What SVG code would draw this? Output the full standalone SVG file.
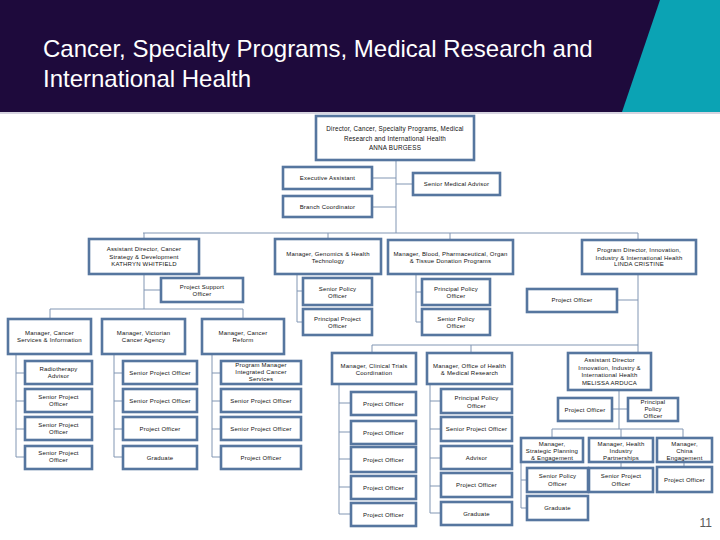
<svg xmlns="http://www.w3.org/2000/svg" width="720" height="540" viewBox="0 0 720 540">
<style>
.box{fill:#fff;stroke:#56769f;stroke-width:2.6}
.ln{stroke:#8196b3;stroke-width:1;fill:none}
.t{font-family:"Liberation Sans",Arial,sans-serif;font-size:6px;letter-spacing:0.2px;fill:#111;text-anchor:middle}
.big{font-size:6.3px}
.title{font-family:"Liberation Sans",Arial,sans-serif;font-size:24px;fill:#fff}
</style>
<rect x="0" y="0" width="720" height="540" fill="#fff"/>
<rect x="0" y="0" width="720" height="112" fill="#1e0a3c"/>
<polygon points="660,0 720,0 720,112 622,112" fill="#0ba3b4"/>
<line x1="0" y1="113" x2="720" y2="113" stroke="#c9c6d6" stroke-width="1.5"/>
<text class="title" x="43" y="57">Cancer, Specialty Programs, Medical Research and</text>
<text class="title" x="43" y="87">International Health</text>
<text x="712" y="527" font-family="Liberation Sans, Arial, sans-serif" font-size="12" fill="#595959" text-anchor="end">11</text>

<g id="connectors" class="ln">
<path d="M396 160V233M372 178H396M372 207H396M396 184H413"/>
<path d="M143 233H638M144 233V239M328 233V239M450 233V240M638 233V240"/>
<path d="M144 274V309M144 290H161M50 309H243M50 309V319M243 309V318"/>
<path d="M297 274V322M297 291H303M297 322H303"/>
<path d="M416 274V322M416 292H422M416 322H422"/>
<path d="M638 274V353M617 300H638M372 345H638M372 345V353M471 345V353"/>
<path d="M16 354V457M16 373H25M16 401H25M16 429H25M16 457H25"/>
<path d="M114 354V457M114 373H123M114 401H123M114 429H123M114 457H123"/>
<path d="M212 354V457M212 373H221M212 401H221M212 429H221M212 457H221"/>
<path d="M339 384V514M339 403H351M339 432H351M339 459H351M339 487H351M339 514H351"/>
<path d="M430 384V513M430 401H441M430 429H441M430 458H441M430 486H441M430 513H441"/>
<path d="M619 390V429M612 409H628M552 429H683M552 429V438M621 429V438M683 429V438"/>
<path d="M521 462V508M521 480H527M521 508H527M621 462V468M684 462V467"/>
</g>

<g id="director"><rect class="box" x="316" y="116" width="158" height="44"/>
<text class="t big" x="395" y="131">Director, Cancer, Specialty Programs, Medical</text>
<text class="t big" x="395" y="141">Research and International Health</text>
<text class="t big" x="395" y="150">ANNA BURGESS</text></g>
<g id="exec-assistant"><rect class="box" x="283" y="167" width="89" height="22"/>
<text class="t" x="327.5" y="180">Executive Assistant</text></g>
<g id="senior-medical-advisor"><rect class="box" x="413" y="173" width="87" height="22"/>
<text class="t" x="456.5" y="186">Senior Medical Advisor</text></g>
<g id="branch-coordinator"><rect class="box" x="283" y="196" width="89" height="21"/>
<text class="t" x="327.5" y="208.5">Branch Coordinator</text></g>

<g id="ad-cancer-strategy"><rect class="box" x="89" y="239" width="110" height="35"/>
<text class="t" x="144" y="251">Assistant Director, Cancer</text>
<text class="t" x="144" y="258.5">Strategy &amp; Development</text>
<text class="t" x="144" y="266">KATHRYN WHITFIELD</text></g>
<g id="mgr-genomics"><rect class="box" x="275" y="239" width="106" height="35"/>
<text class="t" x="328" y="256">Manager, Genomics &amp; Health</text>
<text class="t" x="328" y="263">Technology</text></g>
<g id="mgr-blood"><rect class="box" x="388" y="240" width="125" height="34"/>
<text class="t" x="450.5" y="256">Manager, Blood, Pharmaceutical, Organ</text>
<text class="t" x="450.5" y="263">&amp; Tissue Donation Programs</text></g>
<g id="pd-innovation"><rect class="box" x="582" y="240" width="114" height="34"/>
<text class="t" x="639" y="252">Program Director, Innovation,</text>
<text class="t" x="639" y="260">Industry &amp; International Health</text>
<text class="t" x="639" y="266">LINDA CRISTINE</text></g>

<g id="project-support-officer"><rect class="box" x="161" y="278" width="82" height="24"/>
<text class="t" x="202" y="289">Project Support</text>
<text class="t" x="202" y="296">Officer</text></g>
<g id="mgr-cancer-services"><rect class="box" x="8" y="319" width="83" height="35"/>
<text class="t" x="49.5" y="335">Manager, Cancer</text>
<text class="t" x="49.5" y="342">Services &amp; Information</text></g>
<g id="mgr-victorian"><rect class="box" x="102" y="319" width="83" height="35"/>
<text class="t" x="143.5" y="335">Manager, Victorian</text>
<text class="t" x="143.5" y="342">Cancer Agency</text></g>
<g id="mgr-cancer-reform"><rect class="box" x="202" y="319" width="82" height="35"/>
<text class="t" x="243" y="335">Manager, Cancer</text>
<text class="t" x="243" y="342">Reform</text></g>

<g id="gen-senior-policy"><rect class="box" x="303" y="278" width="69" height="27"/>
<text class="t" x="337.5" y="291">Senior Policy</text>
<text class="t" x="337.5" y="298">Officer</text></g>
<g id="gen-principal-project"><rect class="box" x="303" y="309" width="69" height="26"/>
<text class="t" x="337.5" y="321">Principal Project</text>
<text class="t" x="337.5" y="328">Officer</text></g>
<g id="blood-principal-policy"><rect class="box" x="422" y="279" width="68" height="26"/>
<text class="t" x="456" y="291">Principal Policy</text>
<text class="t" x="456" y="298">Officer</text></g>
<g id="blood-senior-policy"><rect class="box" x="422" y="309" width="68" height="26"/>
<text class="t" x="456" y="321">Senior Policy</text>
<text class="t" x="456" y="328">Officer</text></g>
<g id="pd-project-officer"><rect class="box" x="527" y="289" width="90" height="23"/>
<text class="t" x="572" y="302">Project Officer</text></g>

<g id="cs-radiotherapy"><rect class="box" x="25" y="361" width="67" height="23"/>
<text class="t" x="58.5" y="371">Radiotherapy</text><text class="t" x="58.5" y="378">Advisor</text></g>
<g id="cs-spo1"><rect class="box" x="25" y="389" width="67" height="23"/>
<text class="t" x="58.5" y="399">Senior Project</text><text class="t" x="58.5" y="406">Officer</text></g>
<g id="cs-spo2"><rect class="box" x="25" y="417" width="67" height="23"/>
<text class="t" x="58.5" y="427">Senior Project</text><text class="t" x="58.5" y="434">Officer</text></g>
<g id="cs-spo3"><rect class="box" x="25" y="446" width="67" height="23"/>
<text class="t" x="58.5" y="455">Senior Project</text><text class="t" x="58.5" y="462">Officer</text></g>

<g id="vca-spo1"><rect class="box" x="123" y="361" width="74" height="23"/>
<text class="t" x="160" y="375">Senior Project Officer</text></g>
<g id="vca-spo2"><rect class="box" x="123" y="389" width="74" height="23"/>
<text class="t" x="160" y="403">Senior Project Officer</text></g>
<g id="vca-po"><rect class="box" x="123" y="417" width="74" height="23"/>
<text class="t" x="160" y="431">Project Officer</text></g>
<g id="vca-graduate"><rect class="box" x="123" y="446" width="74" height="23"/>
<text class="t" x="160" y="459.5">Graduate</text></g>

<g id="cr-program-manager"><rect class="box" x="221" y="361" width="80" height="23"/>
<text class="t" x="261" y="367">Program Manager</text>
<text class="t" x="261" y="374">Integrated Cancer</text>
<text class="t" x="261" y="381">Services</text></g>
<g id="cr-spo1"><rect class="box" x="221" y="389" width="80" height="23"/>
<text class="t" x="261" y="403">Senior Project Officer</text></g>
<g id="cr-spo2"><rect class="box" x="221" y="417" width="80" height="23"/>
<text class="t" x="261" y="431">Senior Project Officer</text></g>
<g id="cr-po"><rect class="box" x="221" y="446" width="80" height="23"/>
<text class="t" x="261" y="459.5">Project Officer</text></g>

<g id="mgr-clinical-trials"><rect class="box" x="332" y="353" width="84" height="31"/>
<text class="t" x="374" y="368">Manager, Clinical Trials</text>
<text class="t" x="374" y="375">Coordination</text></g>
<g id="mgr-ohmr"><rect class="box" x="427" y="353" width="85" height="31"/>
<text class="t" x="469.5" y="368">Manager, Office of Health</text>
<text class="t" x="469.5" y="375">&amp; Medical Research</text></g>

<g id="ct-po1"><rect class="box" x="351" y="392" width="65" height="23"/><text class="t" x="383.5" y="405.5">Project Officer</text></g>
<g id="ct-po2"><rect class="box" x="351" y="421" width="65" height="23"/><text class="t" x="383.5" y="434.5">Project Officer</text></g>
<g id="ct-po3"><rect class="box" x="351" y="447" width="65" height="25"/><text class="t" x="383.5" y="461.5">Project Officer</text></g>
<g id="ct-po4"><rect class="box" x="351" y="476" width="65" height="23"/><text class="t" x="383.5" y="489.5">Project Officer</text></g>
<g id="ct-po5"><rect class="box" x="351" y="503" width="65" height="23"/><text class="t" x="383.5" y="516.5">Project Officer</text></g>

<g id="oh-ppo"><rect class="box" x="441" y="389" width="71" height="24"/>
<text class="t" x="476.5" y="400">Principal Policy</text><text class="t" x="476.5" y="408">Officer</text></g>
<g id="oh-spo"><rect class="box" x="441" y="417" width="71" height="24"/><text class="t" x="476.5" y="431">Senior Project Officer</text></g>
<g id="oh-advisor"><rect class="box" x="441" y="446" width="71" height="23"/><text class="t" x="476.5" y="459.5">Advisor</text></g>
<g id="oh-po"><rect class="box" x="441" y="473" width="71" height="24"/><text class="t" x="476.5" y="487">Project Officer</text></g>
<g id="oh-graduate"><rect class="box" x="441" y="502" width="71" height="23"/><text class="t" x="476.5" y="515.5">Graduate</text></g>

<g id="ad-innovation"><rect class="box" x="568" y="353" width="83" height="37"/>
<text class="t" x="609.5" y="362">Assistant Director</text>
<text class="t" x="609.5" y="370">Innovation, Industry &amp;</text>
<text class="t" x="609.5" y="377">International Health</text>
<text class="t" x="609.5" y="385">MELISSA ARDUCA</text></g>
<g id="ad-po"><rect class="box" x="558" y="398" width="54" height="23"/><text class="t" x="585" y="411.5">Project Officer</text></g>
<g id="ad-ppo"><rect class="box" x="628" y="398" width="50" height="23"/>
<text class="t" x="653" y="404">Principal</text><text class="t" x="653" y="411">Policy</text><text class="t" x="653" y="418">Officer</text></g>
<g id="mgr-strategic"><rect class="box" x="521" y="438" width="62" height="24"/>
<text class="t" x="552" y="446">Manager,</text><text class="t" x="552" y="453">Strategic Planning</text><text class="t" x="552" y="460">&amp; Engagement</text></g>
<g id="mgr-health-industry"><rect class="box" x="589" y="438" width="64" height="24"/>
<text class="t" x="621" y="446">Manager, Health</text><text class="t" x="621" y="453">Industry</text><text class="t" x="621" y="460">Partnerships</text></g>
<g id="mgr-china"><rect class="box" x="657" y="438" width="55" height="24"/>
<text class="t" x="684.5" y="446">Manager,</text><text class="t" x="684.5" y="453">China</text><text class="t" x="684.5" y="460">Engagement</text></g>
<g id="sp-senior-policy"><rect class="box" x="527" y="468" width="61" height="24"/>
<text class="t" x="557.5" y="478">Senior Policy</text><text class="t" x="557.5" y="486">Officer</text></g>
<g id="sp-graduate"><rect class="box" x="527" y="496" width="61" height="24"/><text class="t" x="557.5" y="510">Graduate</text></g>
<g id="hi-spo"><rect class="box" x="589" y="468" width="64" height="24"/>
<text class="t" x="621" y="478">Senior Project</text><text class="t" x="621" y="486">Officer</text></g>
<g id="china-po"><rect class="box" x="657" y="467" width="55" height="25"/><text class="t" x="684.5" y="482">Project Officer</text></g>
</svg>
